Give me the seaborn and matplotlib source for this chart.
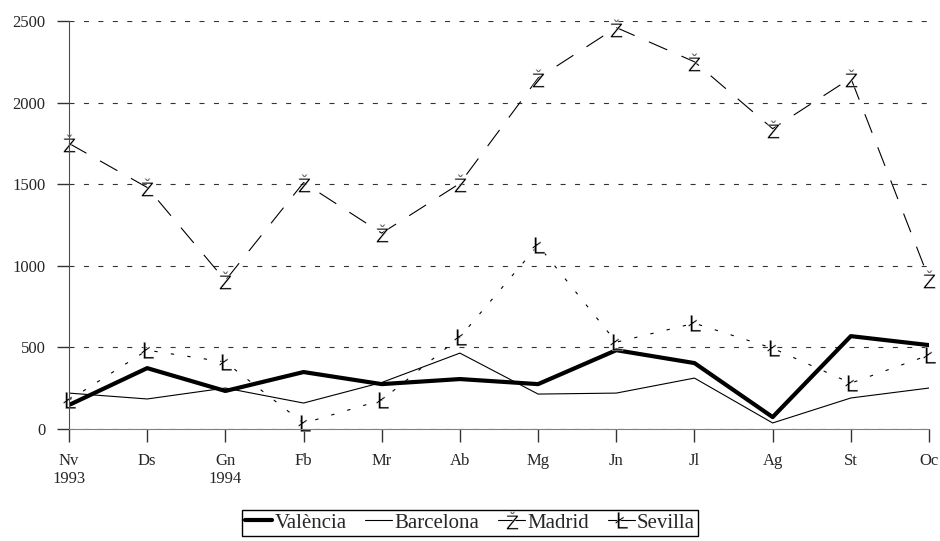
import matplotlib
matplotlib.use('Agg')
import matplotlib.pyplot as plt
import seaborn as sns

# mesos (Nv 1993 - Oc 1994)
mesos = ['Nv\n1993', 'Ds', 'Gn\n1994', 'Fb', 'Mr', 'Ab', 'Mg', 'Jn', 'Jl', 'Ag', 'St', 'Oc']
x = list(range(len(mesos)))

valencia = [147, 373, 233, 349, 275, 306, 275, 483, 404, 73, 569, 514]
barcelona = [220, 184, 251, 159, 285, 465, 214, 220, 312, 37, 190, 251]
madrid = [1750, 1480, 910, 1510, 1200, 1505, 2150, 2460, 2250, 1840, 2150, 920]
sevilla = [177, 483, 410, 35, 177, 563, 1126, 532, 648, 495, 281, 453]

sns.set_style('white')
plt.rcParams['font.family'] = ['Liberation Serif', 'DejaVu Serif']
plt.rcParams['mathtext.fontset'] = 'dejavusans'

fig = plt.figure(figsize=(9.4, 5.41), dpi=100)
ax = fig.add_axes([69/940, 112/541, (929-69)/940, (429-21)/541])

sns.lineplot(x=x, y=valencia, ax=ax, color='black', lw=3, label='València')
sns.lineplot(x=x, y=barcelona, ax=ax, color='black', lw=0.8, label='Barcelona')
sns.lineplot(x=x, y=madrid, ax=ax, color='black', lw=0.8, dashes=False,
             marker='$\\mathrm{Ž}$', markersize=13, markeredgewidth=0.3,
             label='Madrid', clip_on=False)
sns.lineplot(x=x, y=sevilla, ax=ax, color='black', lw=0.8, dashes=False,
             marker='$\\mathrm{Ł}$', markersize=12, markeredgewidth=0.3,
             label='Sevilla', clip_on=False)

ax.lines[2].set_linestyle((0, (18, 14)))
ax.lines[3].set_linestyle((0, (3, 12)))

ax.set_xlim(0, 11)
ax.set_ylim(0, 2500)
ax.set_xticks(x)
ax.set_xticklabels(mesos, fontsize=12)
ax.set_yticks([0, 500, 1000, 1500, 2000, 2500])
ax.tick_params(axis='y', labelsize=12, length=9, width=1, direction='out',
               color='0.2', pad=8, left=True)
ax.tick_params(axis='x', length=9, width=1, direction='out',
               color='0.2', pad=8, bottom=True)
ax.yaxis.grid(True, color='0.2', lw=0.8, linestyle=(0, (4.5, 8.5)))
ax.set_axisbelow(True)

for s in ['top', 'right']:
    ax.spines[s].set_visible(False)
ax.spines['left'].set_color('0.3')
ax.spines['bottom'].set_color('0.5')

leg = ax.legend(loc='upper center', bbox_to_anchor=(0.5, 31/541),
                bbox_transform=fig.transFigure, ncol=4, fontsize=15,
                frameon=True, fancybox=False, edgecolor='black', framealpha=1,
                handlelength=1.3, handletextpad=0.1, columnspacing=0.9,
                borderpad=0.15, borderaxespad=0)
for h in leg.get_lines():
    h.set_linestyle('-')

fig.savefig('out.png', dpi=100)
